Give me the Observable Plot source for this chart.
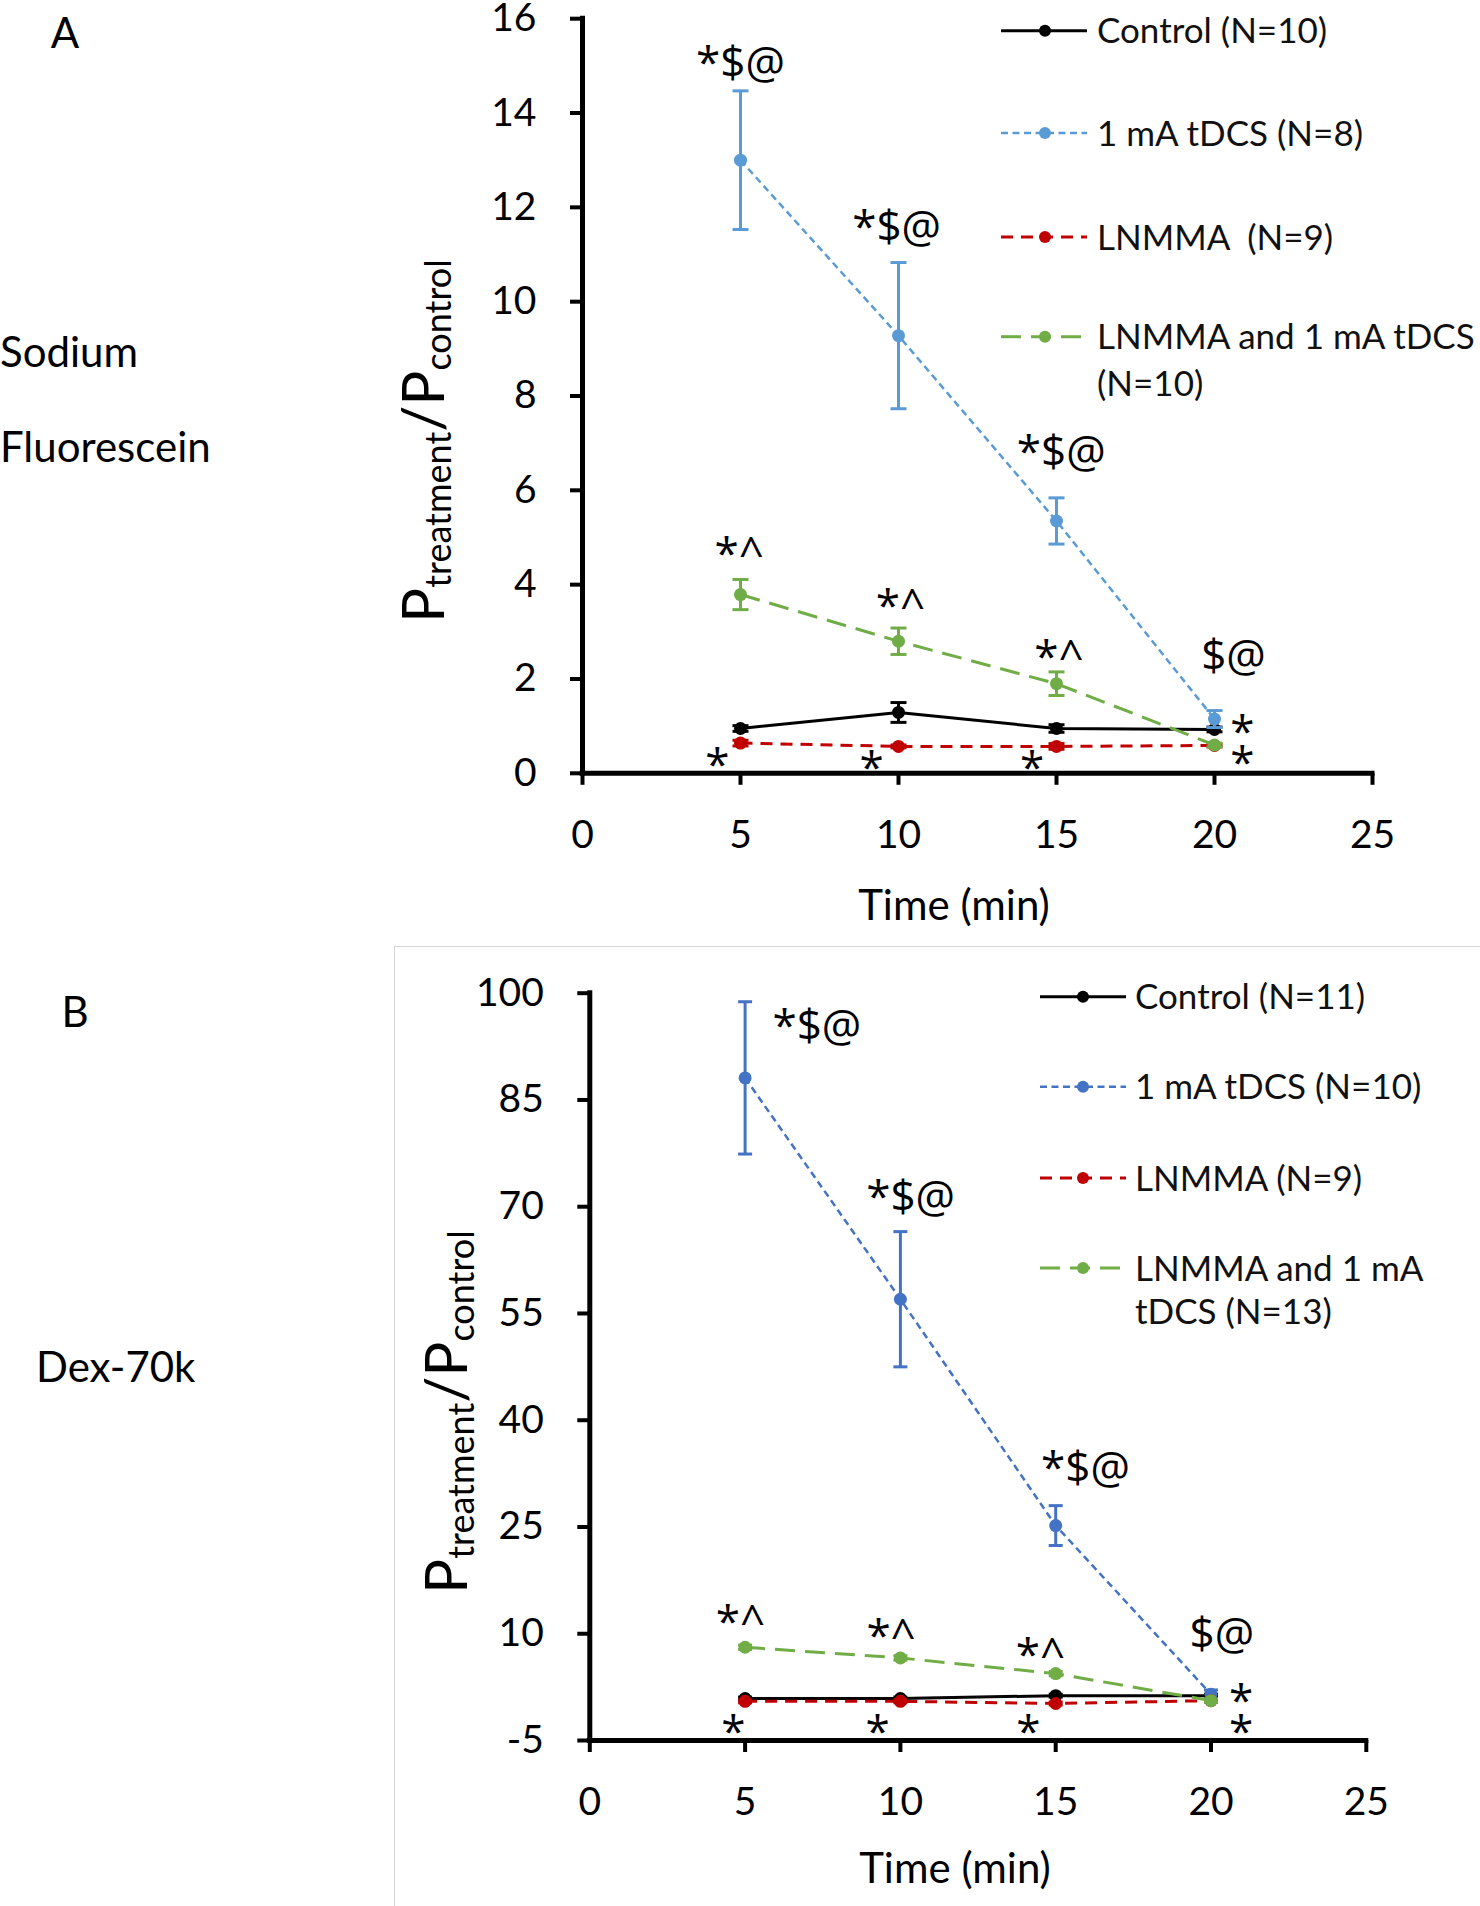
<!DOCTYPE html>
<html><head><meta charset="utf-8">
<script src="https://cdn.jsdelivr.net/npm/d3@7"></script>
<script src="https://cdn.jsdelivr.net/npm/@observablehq/plot@0.6"></script>
<style>
html,body{margin:0;padding:0;background:#fff;}
#page{position:relative;width:1480px;height:1906px;overflow:hidden;background:#fff;font-family:Lato,sans-serif;}
#page svg{position:absolute;}
#frameB{position:absolute;left:394px;top:946px;width:1100px;height:1000px;border-top:1.5px solid #d6d6d6;border-left:1.5px solid #d6d6d6;}
</style></head>
<body><div id="page"><div id="frameB"></div></div>
<script>
// ---------- data ----------
const times = [5, 10, 15, 20];
const xTicks = [0, 5, 10, 15, 20, 25];
const seriesNames = ["Control", "1 mA tDCS", "LNMMA", "LNMMA and 1 mA tDCS"];

// Panel A: Sodium Fluorescein
const aYTicks = [0, 2, 4, 6, 8, 10, 12, 14, 16];
const aControl = [0.95, 1.29, 0.95, 0.93];
const aControlErr = [0.06, 0.21, 0.08, 0.05];
const aTdcs = [13.0, 9.28, 5.35, 1.15];
const aTdcsErr = [1.47, 1.55, 0.49, 0.18];
const aLnmma = [0.64, 0.57, 0.57, 0.59];
const aLnmmaErr = [0.06, 0.03, 0.06, 0.03];
const aCombo = [3.79, 2.8, 1.9, 0.6];
const aComboErr = [0.32, 0.28, 0.25, 0.04];
const aLegend = [["Control (N=10)"], ["1 mA tDCS (N=8)"], ["LNMMA  (N=9)"], ["LNMMA and 1 mA tDCS", "(N=10)"]];
const aNoteText = ["*$@", "*$@", "*$@", "$@", "*^", "*^", "*^", "*", "*", "*", "*", "*"];
const aNoteX = [5.0, 9.94, 15.15, 20.6, 4.96, 10.06, 15.08, 4.27, 9.15, 14.23, 20.88, 20.88];
const aNoteY = [15.05, 11.57, 6.8, 2.47, 4.84, 3.75, 2.65, 0.28, 0.23, 0.23, 0.98, 0.33];

// Panel B: Dex-70k
const bYTicks = [-5, 10, 25, 40, 55, 70, 85, 100];
const bControl = [0.9, 0.9, 1.3, 1.3];
const bControlErr = [0.2, 0.2, 0.2, 0.2];
const bTdcs = [88.1, 57.0, 25.2, 1.5];
const bTdcsErr = [10.7, 9.5, 2.8, 0.6];
const bLnmma = [0.5, 0.5, 0.2, 0.6];
const bLnmmaErr = [0.2, 0.2, 0.2, 0.2];
const bCombo = [8.1, 6.6, 4.4, 0.6];
const bComboErr = [0.3, 0.3, 0.3, 0.2];
const bLegend = [["Control (N=11)"], ["1 mA tDCS (N=10)"], ["LNMMA (N=9)"], ["LNMMA and 1 mA", "tDCS (N=13)"]];
const bNoteText = ["*$@", "*$@", "*$@", "$@", "*^", "*^", "*^", "*", "*", "*", "*", "*"];
const bNoteX = [7.31, 10.33, 15.96, 20.35, 4.85, 9.7, 14.51, 4.62, 9.27, 14.12, 20.97, 20.97];
const bNoteY = [95.2, 71.3, 33.2, 9.85, 12.9, 11.0, 8.3, -3.1, -3.1, -3.1, 1.3, -3.1];

// ---------- styles ----------
const FONT = "Lato, 'Open Sans', sans-serif";
const NOTE_FONT = "'Open Sans', Lato, sans-serif";
const lineStyles = [
  {dash: null, width: 3},
  {dash: "7,4.5", width: 2.5},
  {dash: "12,8", width: 3},
  {dash: "20,10", width: 3}
];
const aColors = ["#000000", "#5B9BD5", "#C00000", "#70AD47"];
const bColors = ["#000000", "#4472C4", "#C00000", "#70AD47"];

const capSymbol = {
  draw(ctx, size) {
    const r = Math.sqrt(size / Math.PI);
    ctx.moveTo(-r, 0); ctx.lineTo(r, 0);
  }
};

function makePanel(cfg) {
  const marks = [
    Plot.ruleX([0], {stroke: "#000", strokeWidth: 5, strokeLinecap: "square"}),
    Plot.ruleY([cfg.yDomain[0]], {stroke: "#000", strokeWidth: 5, strokeLinecap: "square"}),
    Plot.axisX({ticks: xTicks, tickSize: 12, tickPadding: 35, strokeWidth: 4, fontSize: 39,
      tickFormat: d => String(d), label: null}),
    Plot.axisY({ticks: cfg.yTicks, tickSize: 12, tickPadding: 34, strokeWidth: 4, fontSize: 39,
      tickFormat: d => String(d), label: null})
  ];
  cfg.values.forEach((vals, k) => {
    const rows = times.map((t, i) => ({t, v: vals[i], e: cfg.errors[k][i]}));
    const color = cfg.colors[k];
    const ls = lineStyles[k];
    marks.push(Plot.ruleX(rows, {x: "t", y1: d => d.v - d.e, y2: d => d.v + d.e, stroke: color, strokeWidth: 3}));
    marks.push(Plot.dot(rows, {x: "t", y: d => d.v + d.e, symbol: capSymbol, r: cfg.capR, stroke: color, strokeWidth: 3, fill: "none"}));
    marks.push(Plot.dot(rows, {x: "t", y: d => d.v - d.e, symbol: capSymbol, r: cfg.capR, stroke: color, strokeWidth: 3, fill: "none"}));
    marks.push(Plot.line(rows, {x: "t", y: "v", stroke: color, strokeWidth: ls.width,
      strokeDasharray: ls.dash, strokeLinecap: "butt"}));
    marks.push(Plot.dot(rows, {x: "t", y: "v", r: 6.5, fill: color, stroke: "none"}));
  });
  const notes = cfg.noteText.map((s, i) => ({s, x: cfg.noteX[i], y: cfg.noteY[i]}));
  marks.push(Plot.text(notes.filter(d => d.s.includes("$")), {x: "x", y: "y", text: "s", fontSize: 44,
    fontFamily: NOTE_FONT, fill: "#000"}));
  marks.push(Plot.text(notes.filter(d => d.s === "*^"), {x: "x", y: "y", text: "s", fontSize: 44,
    fontFamily: NOTE_FONT, fill: "#000", dy: 10}));
  marks.push(Plot.text(notes.filter(d => d.s === "*"), {x: "x", y: "y", text: "s", fontSize: 44,
    fontFamily: NOTE_FONT, fill: "#000", dy: 6}));
  const svg = Plot.plot({
    width: cfg.width, height: cfg.height,
    marginLeft: cfg.ml, marginRight: cfg.mr, marginTop: cfg.mt, marginBottom: cfg.mb,
    x: {domain: [0, 25]},
    y: {domain: cfg.yDomain},
    style: {overflow: "visible", background: "none", fontFamily: FONT, color: "#000"},
    marks
  });
  svg.style.left = cfg.left + "px";
  svg.style.top = cfg.top + "px";
  return svg;
}

const page = document.getElementById("page");
page.appendChild(makePanel({
  left: 380, top: 0, width: 1100, height: 945,
  ml: 202, mr: 108, mt: 18.2, mb: 172.2,
  yDomain: [0, 16], yTicks: aYTicks,
  values: [aControl, aTdcs, aLnmma, aCombo],
  errors: [aControlErr, aTdcsErr, aLnmmaErr, aComboErr],
  colors: aColors, capR: 8,
  noteText: aNoteText, noteX: aNoteX, noteY: aNoteY
}));
page.appendChild(makePanel({
  left: 394, top: 946, width: 1086, height: 960,
  ml: 195.3, mr: 114.2, mt: 46.7, mb: 166,
  yDomain: [-5, 100], yTicks: bYTicks,
  values: [bControl, bTdcs, bLnmma, bCombo],
  errors: [bControlErr, bTdcsErr, bLnmmaErr, bComboErr],
  colors: bColors, capR: 7,
  noteText: bNoteText, noteX: bNoteX, noteY: bNoteY
}));

// ---------- overlay: labels, axis titles, legends ----------
const ov = d3.select(page).append("svg")
  .attr("width", 1480).attr("height", 1906)
  .style("left", "0px").style("top", "0px")
  .attr("font-family", FONT);
const base = (capCenter, fs) => capCenter + 0.358 * fs;

function label(txt, x, capY, fs, anchor) {
  ov.append("text").attr("x", x).attr("y", base(capY, fs)).attr("font-size", fs)
    .attr("text-anchor", anchor || "start").attr("fill", "#000").style("white-space", "pre").text(txt);
}
label("A", 65, 33, 42, "middle");
label("Sodium", 0, 352, 42);
label("Fluorescein", 0, 447, 42);
label("B", 75, 1012, 42, "middle");
label("Dex-70k", 36, 1367, 42);
label("Time (min)", 954, 905, 42, "middle");
label("Time (min)", 955, 1868, 42, "middle");

function yTitle(bx, cy) {
  const t = ov.append("text").attr("transform", `translate(${bx},${cy}) rotate(-90)`)
    .attr("text-anchor", "middle").attr("fill", "#000");
  t.append("tspan").attr("font-size", 58).text("P");
  t.append("tspan").attr("font-size", 36).attr("dy", 7).text("treatment");
  t.append("tspan").attr("font-size", 58).attr("dy", -7).text("/P");
  t.append("tspan").attr("font-size", 36).attr("dy", 7).text("control");
}
yTitle(444, 441);
yTitle(467, 1412);

function legend(entries, colors, x1, x2, mx, tx, rowsY, lineGap) {
  entries.forEach((lines, k) => {
    const y = rowsY[k];
    const ls = lineStyles[k];
    ov.append("line").attr("x1", x1).attr("x2", x2).attr("y1", y).attr("y2", y)
      .attr("stroke", colors[k]).attr("stroke-width", ls.width)
      .attr("stroke-dasharray", ls.dash).attr("stroke-linecap", "butt");
    ov.append("circle").attr("cx", mx).attr("cy", y).attr("r", 6).attr("fill", colors[k]);
    lines.forEach((ln, j) => {
      ov.append("text").attr("x", tx).attr("y", base(y + j * lineGap, 35)).attr("font-size", 35)
        .attr("fill", "#111").style("white-space", "pre").text(ln);
    });
  });
}
legend(aLegend, aColors, 1001, 1087, 1045, 1097, [30.7, 133, 237, 336.7], 46.3);
legend(bLegend, bColors, 1040, 1126, 1083, 1135, [996.7, 1086.7, 1178, 1268], 43.7);
</script>
</body></html>
